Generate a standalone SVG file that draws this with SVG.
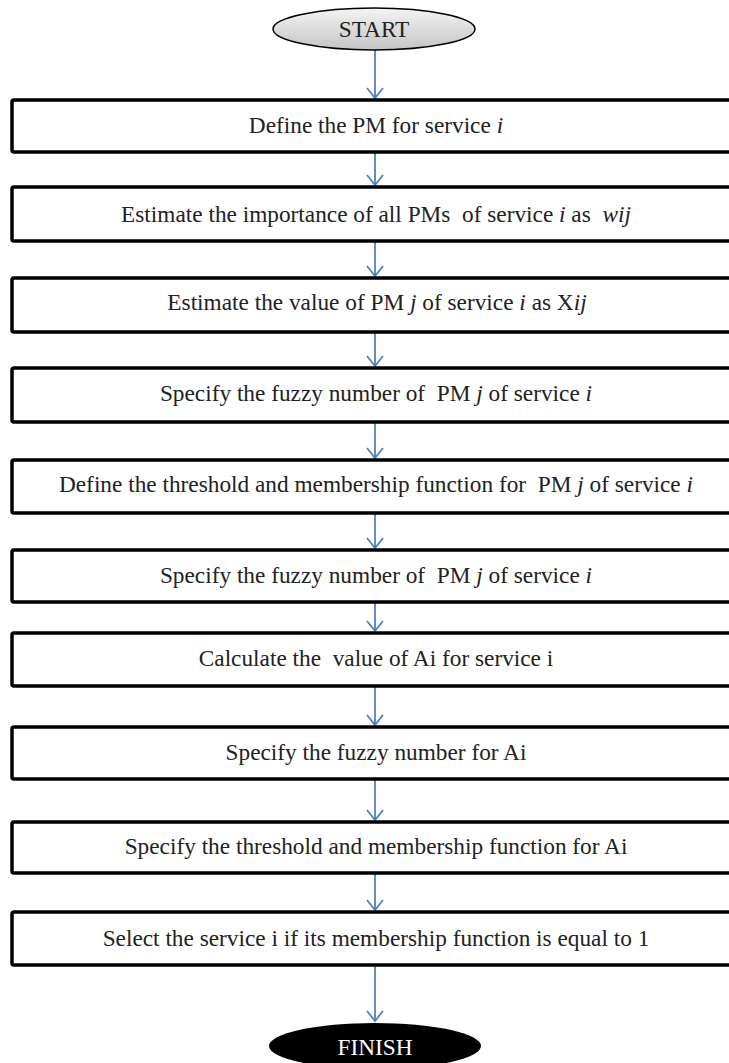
<svg xmlns="http://www.w3.org/2000/svg" width="729" height="1063" viewBox="0 0 729 1063">
<defs>
<linearGradient id="g" x1="0" y1="0" x2="0" y2="1">
<stop offset="0" stop-color="#f4f4f4"/>
<stop offset="1" stop-color="#c4c4c4"/>
</linearGradient>
<marker id="ah" markerWidth="20" markerHeight="20" refX="11" refY="10" orient="auto" markerUnits="userSpaceOnUse">
<path d="M1,2 L11,10 L1,18" fill="none" stroke="#4f81bd" stroke-width="1.8"/>
</marker>
<style>
.box{fill:#fff;stroke:#000;stroke-width:3.5}
.t{font-family:"Liberation Serif","Times New Roman",serif;font-size:23.3px;fill:#222;text-anchor:middle;white-space:pre}
.c{stroke:#4f81bd;stroke-width:1.8;fill:none;marker-end:url(#ah)}
</style>
</defs>
<rect width="729" height="1063" fill="#fff"/>
<g id="connectors">
<line class="c" x1="375" y1="50" x2="375" y2="98"/>
<line class="c" x1="375" y1="152" x2="375" y2="185"/>
<line class="c" x1="375" y1="241" x2="375" y2="276"/>
<line class="c" x1="375" y1="332" x2="375" y2="366"/>
<line class="c" x1="375" y1="422" x2="375" y2="458"/>
<line class="c" x1="375" y1="513" x2="375" y2="548"/>
<line class="c" x1="375" y1="602" x2="375" y2="631"/>
<line class="c" x1="375" y1="686" x2="375" y2="725"/>
<line class="c" x1="375" y1="779" x2="375" y2="820"/>
<line class="c" x1="375" y1="873" x2="375" y2="910"/>
<line class="c" x1="375" y1="965" x2="375" y2="1021"/>
</g>
<g id="start">
<ellipse cx="374" cy="29" rx="101" ry="21" fill="url(#g)" stroke="#000" stroke-width="1.5"/>
<text class="t" x="374" y="37">START</text>
</g>
<g id="n1"><rect class="box" x="12" y="100" width="730" height="52" rx="2"/>
<text class="t" x="376" y="133">Define the PM for service <tspan font-style="italic">i</tspan></text></g>
<g id="n2"><rect class="box" x="12" y="187" width="730" height="54" rx="2"/>
<text class="t" x="376" y="222">Estimate the importance of all PMs  of service <tspan font-style="italic">i</tspan> as  <tspan font-style="italic">wij</tspan></text></g>
<g id="n3"><rect class="box" x="12" y="278" width="730" height="54" rx="2"/>
<text class="t" x="377" y="310">Estimate the value of PM <tspan font-style="italic">j</tspan> of service <tspan font-style="italic">i</tspan> as X<tspan font-style="italic">ij</tspan></text></g>
<g id="n4"><rect class="box" x="12" y="368" width="730" height="54" rx="2"/>
<text class="t" x="376" y="401">Specify the fuzzy number of  PM <tspan font-style="italic">j</tspan> of service <tspan font-style="italic">i</tspan></text></g>
<g id="n5"><rect class="box" x="12" y="460" width="730" height="53" rx="2"/>
<text class="t" x="376" y="492">Define the threshold and membership function for  PM <tspan font-style="italic">j</tspan> of service <tspan font-style="italic">i</tspan></text></g>
<g id="n6"><rect class="box" x="12" y="550" width="730" height="52" rx="2"/>
<text class="t" x="376" y="583">Specify the fuzzy number of  PM <tspan font-style="italic">j</tspan> of service <tspan font-style="italic">i</tspan></text></g>
<g id="n7"><rect class="box" x="12" y="633" width="730" height="53" rx="2"/>
<text class="t" x="376" y="666">Calculate the  value of Ai for service i</text></g>
<g id="n8"><rect class="box" x="12" y="727" width="730" height="52" rx="2"/>
<text class="t" x="376" y="760">Specify the fuzzy number for Ai</text></g>
<g id="n9"><rect class="box" x="12" y="822" width="730" height="51" rx="2"/>
<text class="t" x="376" y="854">Specify the threshold and membership function for Ai</text></g>
<g id="n10"><rect class="box" x="12" y="912" width="730" height="53" rx="2"/>
<text class="t" x="376" y="946">Select the service i if its membership function is equal to 1</text></g>
<g id="finish">
<ellipse cx="375" cy="1046" rx="106" ry="23" fill="#000"/>
<text class="t" x="375" y="1055" style="fill:#fff">FINISH</text>
</g>
</svg>
